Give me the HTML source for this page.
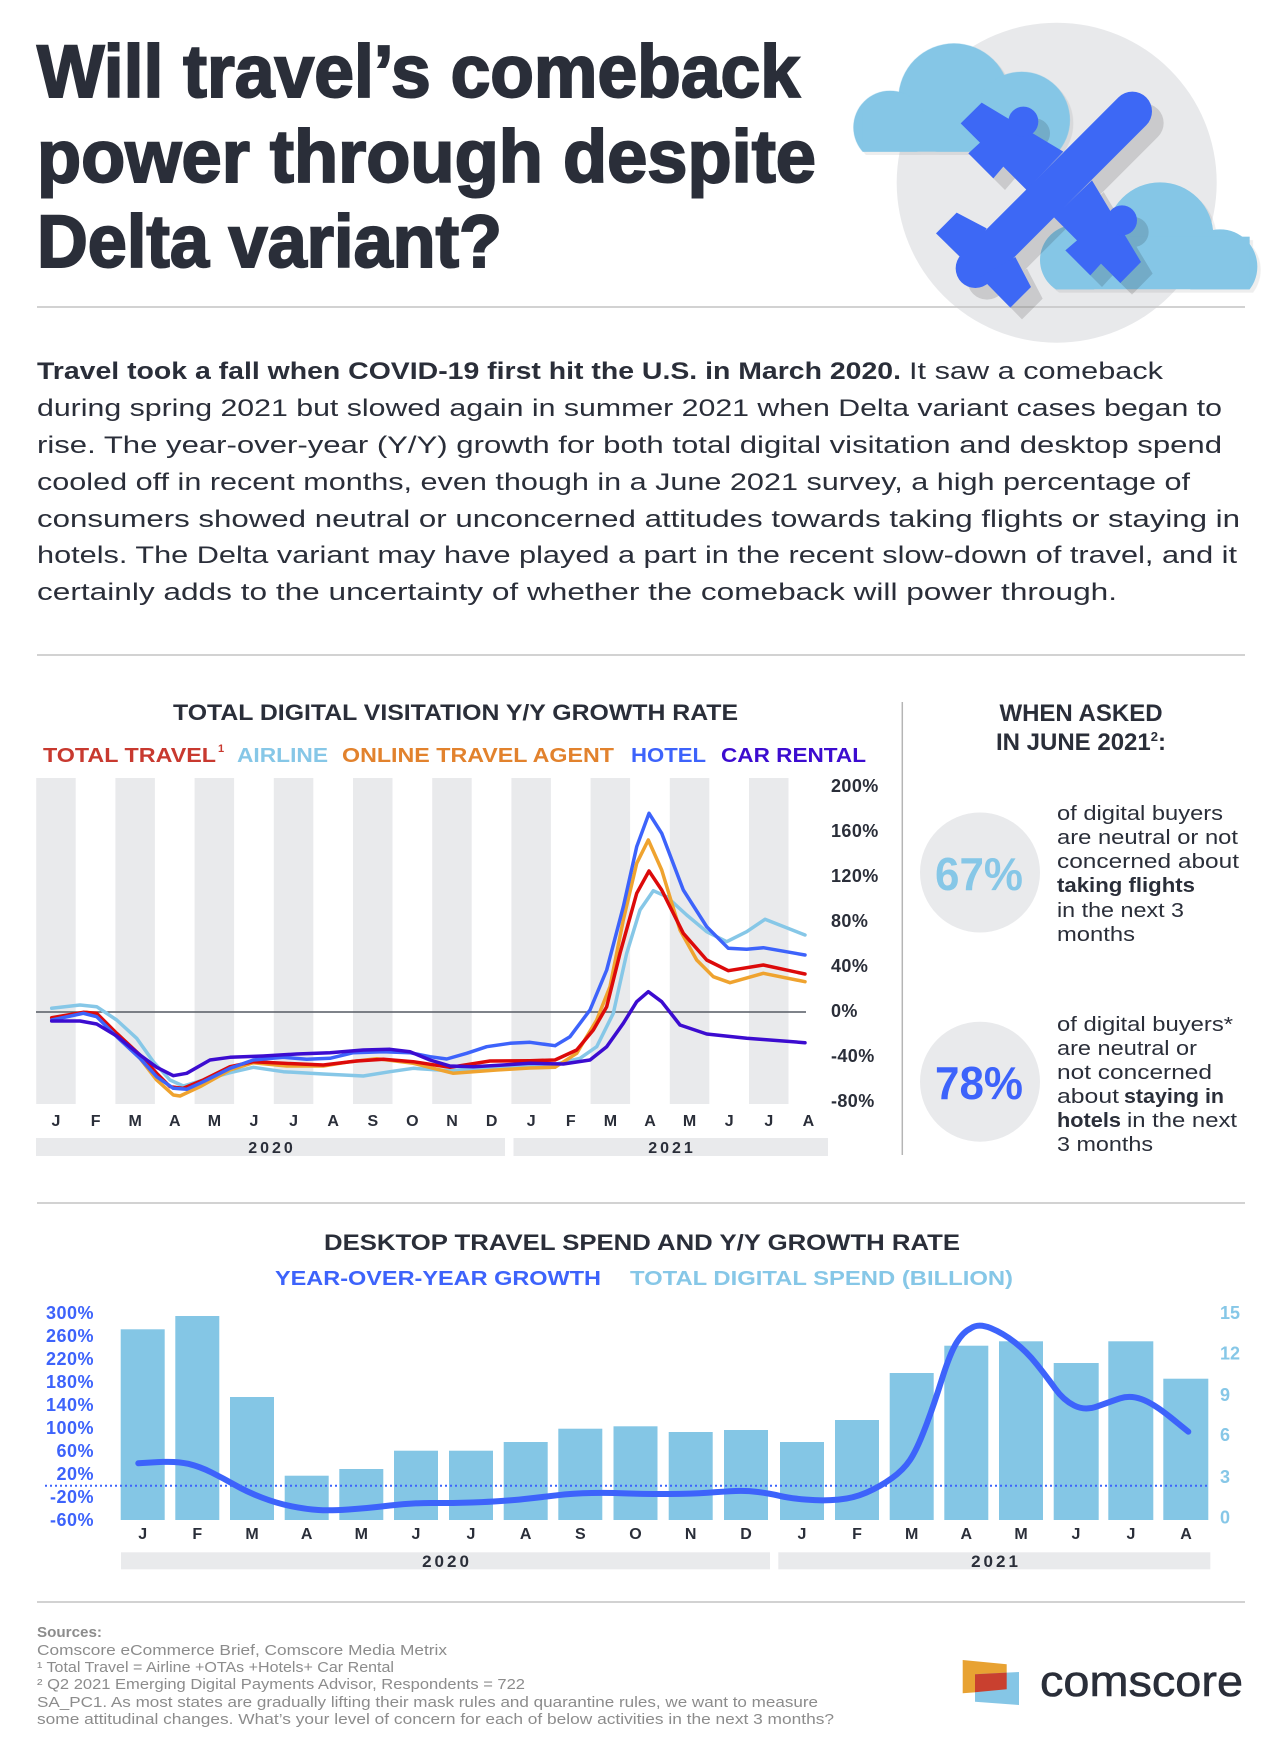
<!DOCTYPE html>
<html><head><meta charset="utf-8"><style>
html,body{margin:0;padding:0;background:#fff;}
svg{display:block;}
text{font-family:"Liberation Sans",Arial,sans-serif;}
.b{font-weight:bold;}
</style></head><body>
<svg width="1280" height="1752" viewBox="0 0 1280 1752" xmlns="http://www.w3.org/2000/svg">
<defs>
<clipPath id="clL"><rect x="0" y="0" width="800" height="365"/></clipPath>
<clipPath id="clR"><rect x="500" y="300" width="900" height="478"/></clipPath>
</defs>
<rect width="1280" height="1752" fill="#fff"/>

<!-- Illustration -->
<circle cx="1056.7" cy="182.7" r="160" fill="#e8e9eb"/>
<line x1="37" y1="307" x2="1245" y2="307" stroke="#c4c4c4" stroke-width="1.6"/>
<g transform="translate(840 30) scale(0.33333)">
  <g opacity="0.07" transform="translate(10 10)">
    <g clip-path="url(#clL)"><circle cx="342" cy="207" r="167"/><circle cx="545" cy="270" r="145"/><circle cx="150" cy="292" r="110"/><rect x="68" y="250" width="587" height="115"/></g>
    <g clip-path="url(#clR)"><circle cx="960" cy="617" r="160"/><circle cx="1140" cy="710" r="112"/><circle cx="705" cy="690" r="105"/><rect x="648" y="620" width="581" height="158"/></g>
  </g>
  <g fill="#85c6e6">
    <g clip-path="url(#clL)"><circle cx="342" cy="207" r="167"/><circle cx="545" cy="270" r="145"/><circle cx="150" cy="292" r="110"/><rect x="68" y="250" width="587" height="115"/></g>
    <g clip-path="url(#clR)"><circle cx="960" cy="617" r="160"/><circle cx="1140" cy="710" r="112"/><circle cx="705" cy="690" r="105"/><rect x="648" y="620" width="581" height="158"/></g>
  </g>
  <g opacity="0.13" transform="translate(35 35)">
    <line x1="877" y1="244" x2="406" y2="715" stroke="#000" stroke-width="118" stroke-linecap="round"/>
    <polygon points="425,218 670,365 560,480 490,410 460,445 385,370 420,338 362,280"/>
    <polygon points="903,696 756,451 641,561 711,631 676,661 751,736 783,701 841,759"/>
    <circle cx="550" cy="275" r="45"/><circle cx="846" cy="571" r="45"/>
    <polygon points="440,595 350,548 288,610 380,700"/>
    <polygon points="526,681 573,771 511,833 421,741"/>
  </g>
  <g fill="#3d68f5">
    <line x1="877" y1="244" x2="406" y2="715" stroke="#3d68f5" stroke-width="118" stroke-linecap="round"/>
    <polygon points="425,218 670,365 560,480 490,410 460,445 385,370 420,338 362,280"/>
    <polygon points="903,696 756,451 641,561 711,631 676,661 751,736 783,701 841,759"/>
    <circle cx="550" cy="275" r="45"/><circle cx="846" cy="571" r="45"/>
    <polygon points="440,595 350,548 288,610 380,700"/>
    <polygon points="526,681 573,771 511,833 421,741"/>
  </g>
</g>

<!-- Title -->
<g fill="#2a2e39" stroke="#2a2e39" stroke-width="2" class="b" font-size="74">
<text x="37" y="97" textLength="763" lengthAdjust="spacingAndGlyphs">Will travel’s comeback</text>
<text x="37" y="182" textLength="779" lengthAdjust="spacingAndGlyphs">power through despite</text>
<text x="37" y="267" textLength="465" lengthAdjust="spacingAndGlyphs">Delta variant?</text>
</g>

<!-- Paragraph -->
<g fill="#2a2e39" font-size="24">
<text x="37" y="379" class="b" textLength="864" lengthAdjust="spacingAndGlyphs">Travel took a fall when COVID-19 first hit the U.S. in March 2020.</text>
<text x="909" y="379" textLength="254" lengthAdjust="spacingAndGlyphs">It saw a comeback</text>
<text x="37" y="416" textLength="1185" lengthAdjust="spacingAndGlyphs">during spring 2021 but slowed again in summer 2021 when Delta variant cases began to</text>
<text x="37" y="453" textLength="1185" lengthAdjust="spacingAndGlyphs">rise. The year-over-year (Y/Y) growth for both total digital visitation and desktop spend</text>
<text x="37" y="490" textLength="1153" lengthAdjust="spacingAndGlyphs">cooled off in recent months, even though in a June 2021 survey, a high percentage of</text>
<text x="37" y="527" textLength="1203" lengthAdjust="spacingAndGlyphs">consumers showed neutral or unconcerned attitudes towards taking flights or staying in</text>
<text x="37" y="563" textLength="1200" lengthAdjust="spacingAndGlyphs">hotels. The Delta variant may have played a part in the recent slow-down of travel, and it</text>
<text x="37" y="600" textLength="1080" lengthAdjust="spacingAndGlyphs">certainly adds to the uncertainty of whether the comeback will power through.</text>
</g>
<line x1="37" y1="655" x2="1245" y2="655" stroke="#c4c4c4" stroke-width="1.6"/>

<!-- Chart 1 -->
<text x="173" y="720" class="b" font-size="22" fill="#2a2e39" textLength="565" lengthAdjust="spacingAndGlyphs">TOTAL DIGITAL VISITATION Y/Y GROWTH RATE</text>
<g class="b" font-size="20">
<text x="43" y="762" fill="#c8392f" textLength="173" lengthAdjust="spacingAndGlyphs">TOTAL TRAVEL</text>
<text x="218" y="752" fill="#c8392f" font-size="11">1</text>
<text x="237" y="762" fill="#86c7e7" textLength="91" lengthAdjust="spacingAndGlyphs">AIRLINE</text>
<text x="342" y="762" fill="#e2822d" textLength="272" lengthAdjust="spacingAndGlyphs">ONLINE TRAVEL AGENT</text>
<text x="631" y="762" fill="#3d63fb" textLength="75" lengthAdjust="spacingAndGlyphs">HOTEL</text>
<text x="721" y="762" fill="#3c0cd0" textLength="145" lengthAdjust="spacingAndGlyphs">CAR RENTAL</text>
</g>
<g fill="#e9eaec">
<rect x="36.2" y="778" width="39.5" height="326"/>
<rect x="115.4" y="778" width="39.5" height="326"/>
<rect x="194.6" y="778" width="39.5" height="326"/>
<rect x="273.8" y="778" width="39.5" height="326"/>
<rect x="353" y="778" width="39.5" height="326"/>
<rect x="432.2" y="778" width="39.5" height="326"/>
<rect x="511.4" y="778" width="39.5" height="326"/>
<rect x="590.6" y="778" width="39.5" height="326"/>
<rect x="669.8" y="778" width="39.5" height="326"/>
<rect x="749" y="778" width="39.5" height="326"/>
</g>
<line x1="36" y1="1012" x2="806" y2="1012" stroke="#555a63" stroke-width="1.5"/>
<g fill="none" stroke-width="3.5" stroke-linejoin="round" stroke-linecap="round">
<polyline stroke="#86c7e7" points="51.7,1008.3 80,1005 96.7,1006.7 116.7,1020 136.7,1038.3 153.3,1061.7 170,1080 183.3,1086 203.3,1080 230,1072.7 253.3,1067.3 283.3,1071.7 323.3,1074 363.3,1076 390,1071.7 413.3,1068.3 450,1070.7 490,1067.3 530,1066 556.7,1064 580,1058.3 596.7,1046.7 613.3,1013.3 626.7,953.3 640,910 653.3,890.7 666.7,896.7 686.7,915 706.7,931.7 726.7,941.7 746.7,931.7 765,919.3 805,935"/>
<polyline stroke="#efa32f" points="51.7,1018.3 86.7,1012.3 96.7,1014.3 116.7,1035 140,1058.3 156.7,1080 173.3,1095 180,1096 200,1086.7 230,1070 253.3,1062.7 286.7,1066 323.3,1066 350,1061.7 376.7,1058.7 413.3,1063.3 453.3,1073.3 496.7,1070 530,1068 555,1067.3 576.7,1053.3 596.7,1020 610,986.7 623.3,920 636.7,863.3 648.3,840 661.7,870 680,930 696.7,960 713.3,976.7 730,982.7 763.3,973.3 805,981.7"/>
<polyline stroke="#dc0a0a" points="51.7,1017.7 83.3,1012.3 96.7,1013.3 116.7,1033.3 140,1055 156.7,1073.3 170,1086.7 183.3,1088.3 203.3,1080 230,1066.7 253.3,1061.7 283.3,1063.3 323.3,1065 356.7,1061 383.3,1059.3 413.3,1061.7 450,1067.3 490,1061 530,1060.7 555,1060 576.7,1050 593.3,1030 606.7,1006.7 620,953.3 636.7,893.3 649,871 661.7,890 683.3,933.3 706.7,960 728.3,970.7 763.3,965 805,974"/>
<polyline stroke="#3d63fb" points="51.7,1020 83.3,1013.3 96.7,1016.7 116.7,1036.7 140,1058.3 156.7,1076.7 173.3,1088.3 186.7,1089.3 203.3,1081.7 230,1068.3 253.3,1060 283.3,1057.3 306.7,1059.3 330,1058.3 353.3,1052.7 383.3,1051.7 410,1052.7 430,1056.7 446.7,1059 466.7,1053.3 486.7,1046.7 510,1043.3 530,1042.3 555,1045.7 570,1036.7 590,1010 606.7,970 623.3,906.7 636.7,846.7 649,813.3 661.7,833.3 683.3,890 706.7,926.7 728.3,948.3 746.7,949.3 763.3,947.7 805,955"/>
<polyline stroke="#3c0cd0" points="51.7,1021 80,1021 96.7,1024 116.7,1036 140,1055 156.7,1067.3 173.3,1075.7 186.7,1073.3 210,1060 230,1057.3 263.3,1056 296.7,1054 330,1052.7 363.3,1050 390,1049.3 410,1051.7 430,1060 450,1066 473.3,1066.7 503.3,1065 530,1063.3 563.3,1064 590,1060 606.7,1046.7 623.3,1023.3 636.7,1001.7 648.3,991.7 661.7,1001.7 680,1025 706.7,1034 746.7,1038.3 805,1042.7"/>
</g>
<g class="b" font-size="18" fill="#2a2e39" letter-spacing="0.4">
<text x="831" y="792">200%</text>
<text x="831" y="837">160%</text>
<text x="831" y="882">120%</text>
<text x="831" y="927">80%</text>
<text x="831" y="972">40%</text>
<text x="831" y="1017">0%</text>
<text x="831" y="1062">-40%</text>
<text x="831" y="1107">-80%</text>
</g>
<g class="b" font-size="16" fill="#2a2e39" text-anchor="middle">
<text x="56" y="1126">J</text><text x="95.6" y="1126">F</text><text x="135.2" y="1126">M</text><text x="174.8" y="1126">A</text><text x="214.4" y="1126">M</text><text x="254" y="1126">J</text><text x="293.6" y="1126">J</text><text x="333.2" y="1126">A</text><text x="372.8" y="1126">S</text><text x="412.4" y="1126">O</text><text x="452" y="1126">N</text><text x="491.6" y="1126">D</text><text x="531.2" y="1126">J</text><text x="570.8" y="1126">F</text><text x="610.4" y="1126">M</text><text x="650" y="1126">A</text><text x="689.6" y="1126">M</text><text x="729.2" y="1126">J</text><text x="768.8" y="1126">J</text><text x="808.4" y="1126">A</text>
</g>
<rect x="36" y="1138" width="469" height="18" fill="#e9eaec"/>
<rect x="513.5" y="1138" width="314.5" height="18" fill="#e9eaec"/>
<g class="b" font-size="16" fill="#2a2e39" text-anchor="middle" letter-spacing="3">
<text x="272" y="1153">2020</text><text x="672" y="1153">2021</text>
</g>

<!-- Right panel -->
<line x1="902.3" y1="702" x2="902.3" y2="1155" stroke="#b5b5b5" stroke-width="1.5"/>
<g class="b" font-size="24" fill="#2a2e39" text-anchor="middle">
<text x="1081" y="721">WHEN ASKED</text>
<text x="1081" y="750">IN JUNE 2021<tspan font-size="13" dy="-9">2</tspan><tspan dy="9">:</tspan></text>
</g>
<circle cx="980" cy="872.5" r="60" fill="#e9eaec"/>
<circle cx="980" cy="1081.7" r="60" fill="#e9eaec"/>
<text x="979" y="890" class="b" font-size="46" fill="#86c7e7" text-anchor="middle" textLength="88" lengthAdjust="spacingAndGlyphs">67%</text>
<text x="979" y="1099" class="b" font-size="46" fill="#3d63fb" text-anchor="middle" textLength="88" lengthAdjust="spacingAndGlyphs">78%</text>
<g font-size="20" fill="#2a2e39">
<text x="1057" y="820" textLength="166" lengthAdjust="spacingAndGlyphs">of digital buyers</text>
<text x="1057" y="844" textLength="181" lengthAdjust="spacingAndGlyphs">are neutral or not</text>
<text x="1057" y="868" textLength="182" lengthAdjust="spacingAndGlyphs">concerned about</text>
<text x="1057" y="892" class="b" textLength="138" lengthAdjust="spacingAndGlyphs">taking flights</text>
<text x="1057" y="917" textLength="127" lengthAdjust="spacingAndGlyphs">in the next 3</text>
<text x="1057" y="941" textLength="78" lengthAdjust="spacingAndGlyphs">months</text>
<text x="1057" y="1031" textLength="176" lengthAdjust="spacingAndGlyphs">of digital buyers*</text>
<text x="1057" y="1055" textLength="140" lengthAdjust="spacingAndGlyphs">are neutral or</text>
<text x="1057" y="1079" textLength="155" lengthAdjust="spacingAndGlyphs">not concerned</text>
<text x="1057" y="1103" textLength="62" lengthAdjust="spacingAndGlyphs">about</text>
<text x="1124" y="1103" class="b" textLength="100" lengthAdjust="spacingAndGlyphs">staying in</text>
<text x="1057" y="1127" class="b" textLength="64" lengthAdjust="spacingAndGlyphs">hotels</text>
<text x="1127" y="1127" textLength="110" lengthAdjust="spacingAndGlyphs">in the next</text>
<text x="1057" y="1151" textLength="96" lengthAdjust="spacingAndGlyphs">3 months</text>
</g>

<line x1="37" y1="1203" x2="1245" y2="1203" stroke="#c4c4c4" stroke-width="1.6"/>

<!-- Chart 2 -->
<text x="324" y="1250" class="b" font-size="22" fill="#2a2e39" textLength="636" lengthAdjust="spacingAndGlyphs">DESKTOP TRAVEL SPEND AND Y/Y GROWTH RATE</text>
<text x="275" y="1285" class="b" font-size="20" fill="#3d63fb" textLength="326" lengthAdjust="spacingAndGlyphs">YEAR-OVER-YEAR GROWTH</text>
<text x="630" y="1285" class="b" font-size="20" fill="#86c7e7" textLength="383" lengthAdjust="spacingAndGlyphs">TOTAL DIGITAL SPEND (BILLION)</text>
<g fill="#84c6e5">
<rect x="120.7" y="1329.3" width="44" height="190.7"/>
<rect x="175.3" y="1316" width="44" height="204"/>
<rect x="230" y="1397" width="44" height="123"/>
<rect x="284.7" y="1475.7" width="44" height="44.3"/>
<rect x="339.3" y="1469" width="44" height="51"/>
<rect x="394" y="1450.7" width="44" height="69.3"/>
<rect x="449" y="1450.7" width="44" height="69.3"/>
<rect x="503.7" y="1442" width="44" height="78"/>
<rect x="558.3" y="1428.7" width="44" height="91.3"/>
<rect x="613.5" y="1426.3" width="44" height="93.7"/>
<rect x="668.7" y="1432" width="44" height="88"/>
<rect x="724" y="1430" width="44" height="90"/>
<rect x="780" y="1442" width="44" height="78"/>
<rect x="835" y="1420" width="44" height="100"/>
<rect x="889.7" y="1373" width="44" height="147"/>
<rect x="944.3" y="1345.7" width="44" height="174.3"/>
<rect x="999" y="1341.3" width="44" height="178.7"/>
<rect x="1053.7" y="1363" width="45" height="157"/>
<rect x="1108.3" y="1341.3" width="45" height="178.7"/>
<rect x="1163.3" y="1378.7" width="45" height="141.3"/>
</g>
<line x1="45" y1="1485.7" x2="1210" y2="1485.7" stroke="#3d63fb" stroke-width="2" stroke-dasharray="2 3"/>
<path fill="none" stroke="#3d63fb" stroke-width="6" stroke-linejoin="round" stroke-linecap="round" d="M138.3,1463.3 L157.5,1462.15 Q176.7,1461 188.35,1463.85 Q200,1466.7 211.65,1472.5 Q223.3,1478.3 235,1485 Q246.7,1491.7 261.7,1497.5 Q276.7,1503.3 291.7,1506.3 Q306.7,1509.3 318.35,1510 Q330,1510.7 348.35,1509.5 Q366.7,1508.3 390,1505.5 Q413.3,1502.7 435,1503 Q456.7,1503.3 481.7,1502.15 Q506.7,1501 523.35,1499.15 Q540,1497.3 556.65,1495.3 Q573.3,1493.3 591.65,1493 Q610,1492.7 625,1493.35 Q640,1494 665,1494 Q690,1494 707.5,1492.75 Q725,1491.5 735.5,1491 Q746,1490.5 758,1492 Q770,1493.5 780,1495.9 Q790,1498.3 806.65,1499.65 Q823.3,1501 838.3,1499.65 Q853.3,1498.3 866.65,1492.5 Q880,1486.7 891.65,1478.35 Q903.3,1470 910,1460 Q916.7,1450 925,1428.35 Q933.3,1406.7 941.65,1380 Q950,1353.3 956.65,1342.5 Q963.3,1331.7 970.8,1328.35 Q978.3,1323 990.8,1328.15 Q1003.3,1333.3 1015,1342.5 Q1026.7,1351.7 1036.7,1364.2 Q1046.7,1376.7 1055,1388.35 Q1063.3,1400 1074.15,1405.5 Q1085,1411 1097.5,1406.35 Q1110,1401.7 1120,1398.35 Q1130,1395 1141.65,1399.15 Q1153.3,1403.3 1170.8,1417.5 L1188.3,1431.7"/>
<g class="b" font-size="18" fill="#3d63fb" text-anchor="end" letter-spacing="0.5">
<text x="94" y="1319">300%</text><text x="94" y="1342">260%</text><text x="94" y="1365">220%</text><text x="94" y="1388">180%</text><text x="94" y="1411">140%</text><text x="94" y="1434">100%</text><text x="94" y="1457">60%</text><text x="94" y="1480">20%</text><text x="94" y="1503">-20%</text><text x="94" y="1526">-60%</text>
</g>
<g class="b" font-size="18" fill="#86c7e7">
<text x="1220" y="1319">15</text><text x="1220" y="1359.5">12</text><text x="1220" y="1401">9</text><text x="1220" y="1441">6</text><text x="1220" y="1483">3</text><text x="1220" y="1523.5">0</text>
</g>
<g class="b" font-size="16" fill="#2a2e39" text-anchor="middle">
<text x="142.7" y="1539">J</text><text x="197.3" y="1539">F</text><text x="252" y="1539">M</text><text x="306.7" y="1539">A</text><text x="361.3" y="1539">M</text><text x="416" y="1539">J</text><text x="471" y="1539">J</text><text x="525.7" y="1539">A</text><text x="580.3" y="1539">S</text><text x="635.5" y="1539">O</text><text x="690.7" y="1539">N</text><text x="746" y="1539">D</text><text x="802" y="1539">J</text><text x="857" y="1539">F</text><text x="911.7" y="1539">M</text><text x="966.3" y="1539">A</text><text x="1021" y="1539">M</text><text x="1076" y="1539">J</text><text x="1131" y="1539">J</text><text x="1186" y="1539">A</text>
</g>
<rect x="121" y="1552.3" width="649" height="17" fill="#e9eaec"/>
<rect x="778.3" y="1552.3" width="432" height="17" fill="#e9eaec"/>
<g class="b" font-size="17" fill="#2a2e39" text-anchor="middle" letter-spacing="3">
<text x="447" y="1567">2020</text><text x="996" y="1567">2021</text>
</g>

<line x1="37" y1="1602" x2="1245" y2="1602" stroke="#c4c4c4" stroke-width="1.6"/>

<!-- Footer -->
<g font-size="14.5" fill="#8c8c8c">
<text x="37" y="1637" class="b" textLength="65" lengthAdjust="spacingAndGlyphs">Sources:</text>
<text x="37" y="1655" textLength="410" lengthAdjust="spacingAndGlyphs">Comscore eCommerce Brief, Comscore Media Metrix</text>
<text x="37" y="1672" textLength="357" lengthAdjust="spacingAndGlyphs">¹ Total Travel = Airline +OTAs +Hotels+ Car Rental</text>
<text x="37" y="1689" textLength="488" lengthAdjust="spacingAndGlyphs">² Q2 2021 Emerging Digital Payments Advisor, Respondents = 722</text>
<text x="37" y="1707" textLength="781" lengthAdjust="spacingAndGlyphs">SA_PC1. As most states are gradually lifting their mask rules and quarantine rules, we want to measure</text>
<text x="37" y="1724" textLength="797" lengthAdjust="spacingAndGlyphs">some attitudinal changes. What’s your level of concern for each of below activities in the next 3 months?</text>
</g>
<polygon points="962.7,1660 1006.7,1664.3 1006.7,1690 962.7,1693.3" fill="#e8a232"/>
<polygon points="975,1674.3 1019,1672 1019,1705 975,1701.7" fill="#85c6e6"/>
<polygon points="975,1674.3 1006.7,1672.6 1006.7,1689.3 975,1692.3" fill="#c9402f"/>
<text x="1040" y="1696" font-size="44" fill="#2a2e39" stroke="#2a2e39" stroke-width="0.6" textLength="203" lengthAdjust="spacingAndGlyphs">comscore</text>
</svg>
</body></html>
